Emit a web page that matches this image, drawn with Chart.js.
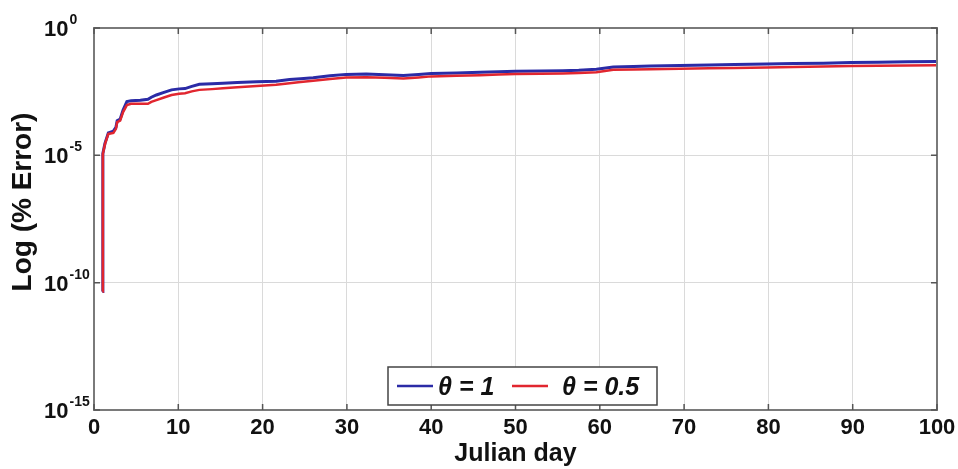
<!DOCTYPE html>
<html>
<head>
<meta charset="utf-8">
<script src="https://cdn.jsdelivr.net/npm/chart.js@4.4.1/dist/chart.umd.min.js"></script>
<style>
    html, body { margin: 0; padding: 0; background: #fff; }
    canvas { display: block; }
</style>
</head>
<body>
<canvas id="grafico" width="958" height="469"></canvas>
<script>
// Julian day of each sample
const dias = [1, 1.05, 1.3, 1.7, 2.3, 2.6, 2.75, 3.1, 3.45, 3.9, 4.4, 5.5, 6.4, 6.8, 7.4, 8.3, 9.2, 10.1, 10.8, 11.6,
    12.5, 14, 15.3, 17, 19.3, 21.6, 23.2, 24.5, 26, 28, 29.9, 32.3, 34.5, 36.7, 38.5, 40, 43, 45.8, 48, 50,
    53, 55.6, 57.5, 59.6, 61.6, 64, 66, 69.5, 73, 76, 79.8, 83, 86.5, 89.8, 93, 96.5, 100];

// % error, theta = 1
const errorTheta1 = [4.47e-11, 1.20e-5, 2.95e-5, 7.59e-5, 8.91e-5, 1.26e-4, 2.29e-4, 2.63e-4, 6.03e-4, 1.29e-3,
    1.38e-3, 1.45e-3, 1.58e-3, 1.91e-3, 2.34e-3, 2.95e-3, 3.72e-3, 4.07e-3, 4.17e-3, 5.13e-3,
    6.17e-3, 6.46e-3, 6.76e-3, 7.24e-3, 7.76e-3, 8.13e-3, 9.55e-3, 1.02e-2, 1.12e-2, 1.32e-2,
    1.51e-2, 1.55e-2, 1.45e-2, 1.35e-2, 1.48e-2, 1.62e-2, 1.70e-2, 1.82e-2, 1.91e-2, 2.00e-2,
    2.04e-2, 2.09e-2, 2.19e-2, 2.40e-2, 2.95e-2, 3.09e-2, 3.24e-2, 3.39e-2, 3.55e-2, 3.72e-2,
    3.89e-2, 4.07e-2, 4.17e-2, 4.37e-2, 4.47e-2, 4.68e-2, 4.79e-2];

// % error, theta = 0.5
const errorTheta05 = [4.47e-11, 1.12e-5, 2.75e-5, 6.92e-5, 7.59e-5, 1.10e-4, 2.00e-4, 2.29e-4, 5.01e-4, 9.33e-4,
    1.05e-3, 1.05e-3, 1.05e-3, 1.26e-3, 1.48e-3, 1.86e-3, 2.34e-3, 2.63e-3, 2.75e-3, 3.24e-3,
    3.72e-3, 3.98e-3, 4.27e-3, 4.68e-3, 5.25e-3, 5.89e-3, 6.76e-3, 7.59e-3, 8.51e-3, 1.00e-2,
    1.15e-2, 1.17e-2, 1.12e-2, 1.05e-2, 1.15e-2, 1.26e-2, 1.32e-2, 1.41e-2, 1.48e-2, 1.55e-2,
    1.58e-2, 1.62e-2, 1.70e-2, 1.82e-2, 2.29e-2, 2.34e-2, 2.40e-2, 2.51e-2, 2.63e-2, 2.69e-2,
    2.82e-2, 2.95e-2, 3.09e-2, 3.24e-2, 3.31e-2, 3.39e-2, 3.47e-2];

const etiquetas = ["θ = 1", "θ = 0.5"];
const ticksY = [1e-15, 1e-10, 1e-5, 1];
const exponentesY = ["-15", "-10", "-5", "0"];

const fuente = '"Liberation Sans", Arial, sans-serif';

const marco = {
    id: 'marco',
    afterDraw(chart) {
        const ctx = chart.ctx;
        const area = chart.chartArea;
        const xs = chart.scales.x;
        const ys = chart.scales.y;
        ctx.save();

        // marco gris
        ctx.strokeStyle = '#7a7a7a';
        ctx.lineWidth = 2;
        ctx.strokeRect(area.left, area.top, area.right - area.left, area.bottom - area.top);

        // ticks hacia dentro
        ctx.strokeStyle = '#555';
        ctx.lineWidth = 1.5;
        ctx.beginPath();
        xs.ticks.forEach(t => {
            const px = xs.getPixelForValue(t.value);
            ctx.moveTo(px, area.bottom); ctx.lineTo(px, area.bottom - 6);
            ctx.moveTo(px, area.top); ctx.lineTo(px, area.top + 6);
        });
        ys.ticks.forEach(t => {
            const py = ys.getPixelForValue(t.value);
            ctx.moveTo(area.left, py); ctx.lineTo(area.left + 6, py);
            ctx.moveTo(area.right, py); ctx.lineTo(area.right - 6, py);
        });
        ctx.stroke();

        // etiquetas eje y: 10 con exponente
        ctx.fillStyle = '#111';
        ctx.textAlign = 'left';
        ctx.textBaseline = 'alphabetic';
        ticksY.forEach((v, i) => {
            const py = ys.getPixelForValue(v);
            ctx.font = 'bold 22px ' + fuente;
            ctx.fillText('10', 44, py + 8);
            const w = ctx.measureText('10').width;
            ctx.font = 'bold 14px ' + fuente;
            ctx.fillText(exponentesY[i], 44 + w + 1, py - 4);
        });

        // titulo eje y
        ctx.save();
        ctx.translate(23, 202);
        ctx.rotate(-Math.PI / 2);
        ctx.font = 'bold 28px ' + fuente;
        ctx.textAlign = 'center';
        ctx.textBaseline = 'middle';
        ctx.fillText('Log (% Error)', 0, 0);
        ctx.restore();

        // leyenda
        const lx = area.left + 294, ly = area.bottom - 43;
        ctx.fillStyle = '#fff';
        ctx.fillRect(lx, ly, 269, 38);
        ctx.strokeStyle = '#444';
        ctx.lineWidth = 1.5;
        ctx.strokeRect(lx, ly, 269, 38);
        const offs = [[9, 50], [124, 174]];
        chart.data.datasets.forEach((ds, i) => {
            ctx.strokeStyle = ds.borderColor;
            ctx.lineWidth = 2.5;
            ctx.beginPath();
            ctx.moveTo(lx + offs[i][0], ly + 19);
            ctx.lineTo(lx + offs[i][0] + 36, ly + 19);
            ctx.stroke();
            ctx.fillStyle = '#111';
            ctx.font = 'italic bold 25px ' + fuente;
            ctx.textBaseline = 'alphabetic';
            ctx.fillText(ds.label, lx + offs[i][1], ly + 28);
        });

        ctx.restore();
    }
};

new Chart(document.getElementById('grafico').getContext('2d'), {
    type: 'line',
    data: {
        datasets: [
            {
                label: etiquetas[0],
                data: dias.map((d, i) => ({ x: d, y: errorTheta1[i] })),
                borderColor: '#2b2ba6',
                borderWidth: 3,
                pointRadius: 0,
                tension: 0,
                order: 1
            },
            {
                label: etiquetas[1],
                data: dias.map((d, i) => ({ x: d, y: errorTheta05[i] })),
                borderColor: '#e1262f',
                borderWidth: 2.5,
                pointRadius: 0,
                tension: 0,
                order: 0
            }
        ]
    },
    options: {
        responsive: false,
        animation: false,
        devicePixelRatio: 1,
        layout: { padding: { left: 94, right: 21, top: 28, bottom: 0 } },
        plugins: {
            legend: { display: false },
            tooltip: { enabled: false }
        },
        scales: {
            x: {
                type: 'linear',
                min: 0,
                max: 100,
                afterFit: scale => {
                    // alto fijo y sin relleno extra por las etiquetas de los extremos
                    scale.height = 59;
                    scale.paddingLeft = 0;
                    scale.paddingRight = 0;
                },
                ticks: {
                    stepSize: 10,
                    padding: 7,
                    color: '#111',
                    font: { family: fuente, size: 22, weight: 'bold', lineHeight: 1 }
                },
                grid: { color: '#dadada', lineWidth: 1, drawTicks: false },
                border: { display: false },
                title: {
                    display: true,
                    text: 'Julian day',
                    color: '#111',
                    font: { family: fuente, size: 25, weight: 'bold', lineHeight: 0.8 },
                    padding: { top: 0, bottom: 5 }
                }
            },
            y: {
                type: 'logarithmic',
                min: 1e-15,
                max: 1,
                afterBuildTicks: scale => {
                    scale.ticks = ticksY.map(v => ({ value: v }));
                },
                ticks: { display: false },
                grid: { color: '#dadada', lineWidth: 1, drawTicks: false },
                border: { display: false }
            }
        }
    },
    plugins: [marco]
});
</script>
</body>
</html>
